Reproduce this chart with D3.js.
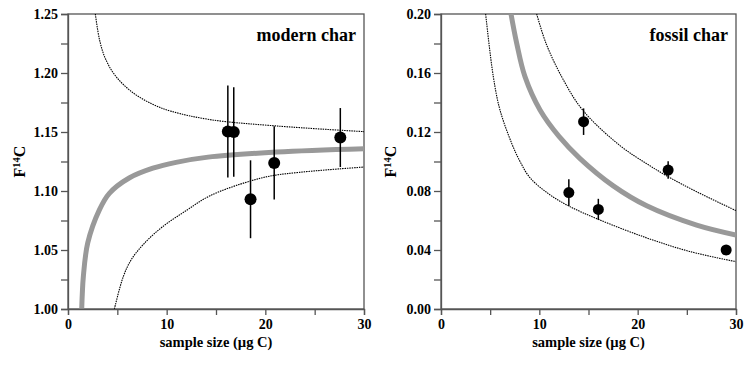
<!DOCTYPE html>
<html>
<head>
<meta charset="utf-8">
<script src="https://cdn.jsdelivr.net/npm/d3@7"></script>
<style>
	body { margin: 0; background: #fff; }
	svg { display: block; font-family: "Liberation Serif", "Times New Roman", serif; font-weight: bold; }
	.axis text { font-size: 14px; font-weight: bold; font-family: "Liberation Serif", serif; fill: #000; }
	.axis line, .axis path { stroke: #555; stroke-width: 1.3px; }
</style>
</head>
<body>
<svg id="chart" width="746" height="365"></svg>
<script>
// x axis (sample size, ug C)
var xTicks = [0, 10, 20, 30];
var xMinorTicks = [5, 15, 25];

// modern char panel
var modernYTicks = [1.00, 1.05, 1.10, 1.15, 1.20, 1.25];
var modernYMinor = [1.025, 1.075, 1.125, 1.175, 1.225];
var modernSize = [16.2, 16.8, 18.5, 20.9, 27.6];
var modernF = [1.1505, 1.150, 1.093, 1.1238, 1.1453];
var modernErr = [0.039, 0.038, 0.033, 0.031, 0.025];
var modernFit = [[1.39, 1.00], [1.45, 1.013], [1.55, 1.027], [2.0, 1.056], [3.18, 1.084], [4.19, 1.098], [6.2, 1.111], [8.6, 1.1193], [10.95, 1.1243], [14.2, 1.1287], [21.15, 1.1330], [30, 1.1358]];
var modernUpper = [[2.77, 1.25], [3.2, 1.228], [3.8, 1.212], [4.86, 1.197], [6.55, 1.1835], [8.58, 1.1735], [10.5, 1.1675], [14.4, 1.1605], [21.15, 1.1551], [30, 1.1503]];
var modernLower = [[4.7, 1.00], [5.6, 1.0274], [6.39, 1.0415], [7.74, 1.0557], [9.6, 1.0698], [12.0, 1.0835], [14.4, 1.0960], [18.5, 1.1085], [21.15, 1.1136], [30, 1.1203]];

// fossil char panel
var fossilYTicks = [0.00, 0.04, 0.08, 0.12, 0.16, 0.20];
var fossilYMinor = [0.02, 0.06, 0.10, 0.14, 0.18];
var fossilSize = [14.5, 23.1, 13.0, 16.0, 29.0];
var fossilF = [0.127, 0.0942, 0.0789, 0.0675, 0.040];
var fossilErr = [0.009, 0.0059, 0.009, 0.0072, 0.002];
var fossilFit = [[7.12, 0.20], [7.7, 0.1801], [8.54, 0.1575], [10.07, 0.1349], [12.0, 0.117], [14.14, 0.102], [17.52, 0.0835], [20.92, 0.0700], [26.0, 0.0569], [30, 0.0502]];
var fossilUpper = [[9.73, 0.20], [10.68, 0.1801], [12.27, 0.1575], [14.4, 0.1349], [18.2, 0.1108], [20.92, 0.0985], [23.1, 0.0897], [26.0, 0.0795], [30, 0.0667]];
var fossilLower = [[4.54, 0.20], [5.32, 0.1575], [6.0, 0.1349], [7.19, 0.1123], [8.0, 0.1005], [9.05, 0.0890], [11.0, 0.0778], [13.0, 0.0698], [16.0, 0.0608], [20.92, 0.0482], [25.3, 0.0390], [30, 0.0321]];

var svg = d3.select("#chart");

function drawPanel(p) {
	var width = p.right - p.left,
		height = p.bottom - p.top;

	var x = d3.scaleLinear().domain([0, 30]).range([0, width]);
	var y = d3.scaleLinear().domain(p.yDomain).range([height, 0]);

	var g = svg.append("g")
		.attr("transform", "translate(" + p.left + "," + p.top + ")");

	g.append("clipPath")
		.attr("id", p.id + "-clip")
		.append("rect")
		.attr("width", width)
		.attr("height", height);

	// frame (top + right)
	g.append("rect")
		.attr("width", width)
		.attr("height", height)
		.attr("fill", "none")
		.attr("stroke", "#555")
		.attr("stroke-width", 1.3);

	var line = d3.line()
		.x(function(d) { return x(d[0]); })
		.y(function(d) { return y(d[1]); })
		.curve(d3.curveCatmullRom.alpha(0.5));

	var curves = g.append("g").attr("clip-path", "url(#" + p.id + "-clip)");

	curves.append("path")
		.attr("d", line(p.fit))
		.attr("fill", "none")
		.attr("stroke", "#999")
		.attr("stroke-width", 5);

	[p.upper, p.lower].forEach(function(c) {
		curves.append("path")
			.attr("d", line(c))
			.attr("fill", "none")
			.attr("stroke", "#000")
			.attr("stroke-width", 1.1)
			.attr("stroke-dasharray", "1.5,0.9");
	});

	// error bars + points
	var pts = p.size.map(function(s, i) { return { x: s, y: p.f[i], e: p.err[i] }; });

	g.selectAll(".err")
		.data(pts)
		.enter().append("line")
		.attr("class", "err")
		.attr("x1", function(d) { return x(d.x); })
		.attr("x2", function(d) { return x(d.x); })
		.attr("y1", function(d) { return y(d.y - d.e); })
		.attr("y2", function(d) { return y(d.y + d.e); })
		.attr("stroke", "#000")
		.attr("stroke-width", 1.5);

	g.selectAll(".pt")
		.data(pts)
		.enter().append("circle")
		.attr("class", "pt")
		.attr("cx", function(d) { return x(d.x); })
		.attr("cy", function(d) { return y(d.y); })
		.attr("r", p.r)
		.attr("fill", "#000");

	// axes
	g.append("g")
		.attr("class", "axis")
		.attr("transform", "translate(0," + height + ")")
		.call(d3.axisBottom(x).tickValues(xTicks).tickSize(6).tickPadding(4).tickFormat(d3.format("d")));
	g.append("g")
		.attr("class", "axis")
		.attr("transform", "translate(0," + height + ")")
		.call(d3.axisBottom(x).tickValues(xMinorTicks).tickSize(6).tickFormat(""))
		.select(".domain").remove();

	g.append("g")
		.attr("class", "axis")
		.call(d3.axisLeft(y).tickValues(p.yTicks).tickSize(7).tickPadding(3).tickFormat(d3.format(".2f")));
	g.append("g")
		.attr("class", "axis")
		.call(d3.axisLeft(y).tickValues(p.yMinor).tickSize(7).tickFormat(""))
		.select(".domain").remove();

	// axis titles
	g.append("text")
		.attr("x", width / 2)
		.attr("y", height + 38)
		.attr("text-anchor", "middle")
		.attr("font-size", 14.5)
		.text("sample size (\u00b5g C)");

	var yl = svg.append("text")
		.attr("transform", "translate(" + p.yLabelX + "," + (p.top + height / 2) + ") rotate(-90)")
		.attr("text-anchor", "middle")
		.attr("font-size", 16);
	yl.append("tspan").text("F");
	yl.append("tspan").attr("font-size", 10.5).attr("dy", -5).text("14");
	yl.append("tspan").attr("dy", 5).text("C");

	g.append("text")
		.attr("x", width - 8)
		.attr("y", 27)
		.attr("text-anchor", "end")
		.attr("font-size", 18)
		.text(p.title);
}

drawPanel({
	id: "modern", left: 68, right: 364, top: 14, bottom: 309,
	yDomain: [1.00, 1.25], yTicks: modernYTicks, yMinor: modernYMinor,
	size: modernSize, f: modernF, err: modernErr,
	fit: modernFit, upper: modernUpper, lower: modernLower,
	r: 6, yLabelX: 25, title: "modern char"
});

drawPanel({
	id: "fossil", left: 441, right: 736, top: 14, bottom: 309,
	yDomain: [0.00, 0.20], yTicks: fossilYTicks, yMinor: fossilYMinor,
	size: fossilSize, f: fossilF, err: fossilErr,
	fit: fossilFit, upper: fossilUpper, lower: fossilLower,
	r: 5.5, yLabelX: 396, title: "fossil char"
});
</script>
</body>
</html>
